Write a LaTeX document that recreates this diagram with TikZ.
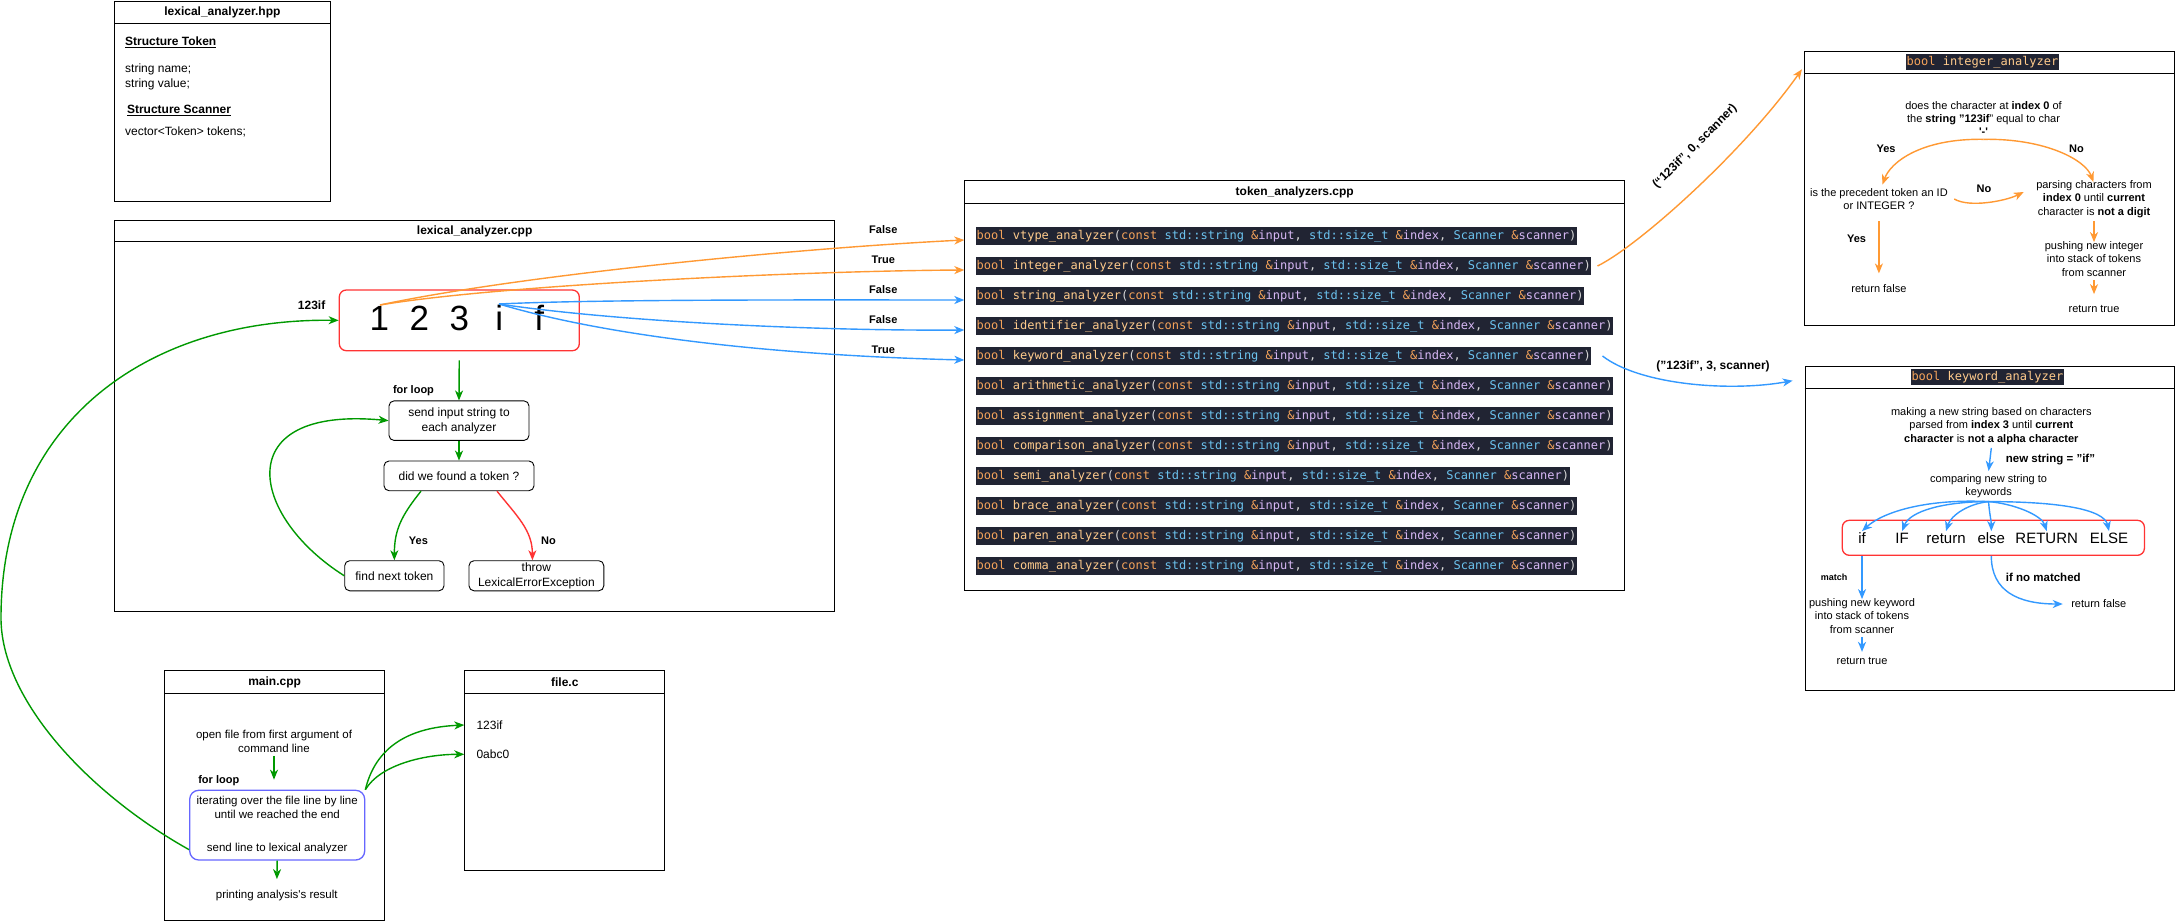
\documentclass[tikz,border=0pt]{standalone}
\usepackage{fontspec}
\setmainfont{Liberation Sans}
\setmonofont{DejaVu Sans Mono}
\usetikzlibrary{arrows.meta,calc}
\definecolor{gC}{HTML}{009900}
\definecolor{oC}{HTML}{FF9933}
\definecolor{bC}{HTML}{3399FF}
\definecolor{rC}{HTML}{FF3333}
\definecolor{vC}{HTML}{6666FF}
\definecolor{cbg}{HTML}{212433}
\definecolor{cbool}{HTML}{F5A35A}
\definecolor{cfn}{HTML}{FFCB8C}
\definecolor{cpl}{HTML}{D8D8D8}
\definecolor{cty}{HTML}{6CC3EF}
\definecolor{cvar}{HTML}{D7B8F5}
\newcommand{\sz}[2]{\fontsize{#1}{#2}\selectfont}
\newcommand{\fnsig}[1]{\textcolor{cbool}{bool} \textcolor{cfn}{#1}\textcolor{cpl}{(}\textcolor{cbool}{const} \textcolor{cty}{std::string} \textcolor{cbool}{\&}\textcolor{cvar}{input}\textcolor{cpl}{,} \textcolor{cty}{std::size\_t} \textcolor{cbool}{\&}\textcolor{cvar}{index}\textcolor{cpl}{,} \textcolor{cty}{Scanner} \textcolor{cbool}{\&}\textcolor{cvar}{scanner}\textcolor{cpl}{)}}
\begin{document}
\begin{tikzpicture}[x=1pt,y=-1pt,
  cont/.style={draw=black, line width=0.9pt, inner sep=0pt, anchor=north west},
  sepl/.style={draw=black, line width=0.9pt},
  ttl/.style={font=\bfseries\sz{12}{14}, inner sep=0pt},
  tx/.style={font=\sz{12}{15}, align=center},
  txm/.style={font=\sz{11.5}{14}, align=center},
  txs/.style={font=\sz{11}{13.3}, align=center},
  lt/.style={anchor=west, inner xsep=0pt},
  bl/.style={font=\bfseries\sz{11}{13}, inner sep=1pt},
  blt/.style={font=\bfseries\sz{12}{14}, inner sep=1pt},
  rbox/.style={draw=black, line width=0.9pt, rounded corners=5pt, align=center, font=\sz{12}{15}, inner sep=0pt},
  codeline/.style={fill=cbg, anchor=west, inner xsep=0.5pt, inner ysep=0pt, minimum height=17.5pt, text height=9.5pt, text depth=3pt, font=\ttfamily\sz{12}{14}},
  codet/.style={fill=cbg, inner xsep=0.5pt, inner ysep=0pt, minimum height=16.5pt, text height=9.5pt, text depth=3pt, font=\ttfamily\sz{12}{14}},
  kwn/.style={font=\sz{15}{17}, inner sep=1pt, text height=11pt, text depth=3pt},
  arr/.style={line width=1.4pt, -{Stealth[length=10pt,width=8pt,inset=3pt]}},
  ga/.style={arr, draw=gC},
  oa/.style={arr, draw=oC},
  ba/.style={arr, draw=bC},
  ra/.style={arr, draw=rC}
]
\useasboundingbox (0,0) rectangle (2176,921);
\fill[white] (0,0) rectangle (2176,921);

% ---------------- lexical_analyzer.hpp
\node[cont, minimum width=215.1pt, minimum height=199.6pt] (hpp) at (114.4,1) {};
\draw[sepl] ($(hpp.north west)+(0,22.7)$) -- ($(hpp.north east)+(0,22.7)$);
\node[ttl] (hppT) at ($(hpp.north)+(0,11.8)$) {lexical\_analyzer.hpp};
\node[lt, font=\bfseries\sz{12}{14}] (st) at (125,42.7) {\underline{Structure Token}};
\node[lt, font=\sz{12}{15}, align=left] (stf) at (125,76.4) {string name;\\string value;};
\node[lt, font=\bfseries\sz{12}{14}] (ss) at (126.8,110.8) {\underline{Structure Scanner}};
\node[lt, font=\sz{12}{15}] (sv) at (125,131.8) {vector<Token> tokens;};

% ---------------- lexical_analyzer.cpp
\node[cont, minimum width=719.6pt, minimum height=390.2pt] (lex) at (114.4,220.4) {};
\draw[sepl] ($(lex.north west)+(0,21)$) -- ($(lex.north east)+(0,21)$);
\node[ttl] (lexT) at ($(lex.north)+(0,10.8)$) {lexical\_analyzer.cpp};

\node[draw=rC, line width=1.3pt, rounded corners=7pt, minimum width=240pt, minimum height=60.7pt, inner sep=0pt, text depth=6pt, font=\sz{35}{40}] (rb) at (459.3,320.35)
  {\makebox[40pt]{1}\makebox[40pt]{2}\makebox[40pt]{3}\makebox[40pt]{i}\makebox[40pt]{f}};
\coordinate (d1) at (380,305);
\coordinate (di) at (499,304);
\node[blt] (lin) at (311.6,305.5) {123if};

\node[rbox, minimum width=140pt, minimum height=39.5pt] (send) at (459,420.65) {send input string to\\each analyzer};
\node[rbox, minimum width=150pt, minimum height=29.7pt] (found) at (459,475.85) {did we found a token ?};
\node[rbox, minimum width=99.3pt, minimum height=30.1pt] (next) at (394.35,575.75) {find next token};
\node[rbox, minimum width=134.8pt, minimum height=30.1pt] (throw) at (536.4,575.75) {throw\\LexicalErrorException};
\node[bl] (forl) at (413.5,390.6) {for loop};
\node[bl] (yes1) at (418.4,540.5) {Yes};
\node[bl] (no1) at (548.5,540.5) {No};

\draw[ga, shorten <=9pt] (rb.south) -- (send.north);
\draw[ga] (send.south) -- (found.north);
\draw[ga] ([xshift=-38pt]found.south) .. controls +(-20,25) and +(0,-30) .. (next.north);
\draw[ra] ([xshift=38pt]found.south) .. controls +(20,25) and +(0,-30) .. ([xshift=-4pt]throw.north);
\draw[ga] (next.west) .. controls +(-95,-60) and +(-160,-15) .. (send.west);

% ---------------- token_analyzers.cpp
\node[cont, minimum width=660pt, minimum height=410pt] (tok) at (964.3,180.3) {};
\draw[sepl] ($(tok.north west)+(0,23)$) -- ($(tok.north east)+(0,23)$);
\node[ttl] (tokT) at ($(tok.north)+(0,12.5)$) {token\_analyzers.cpp};
\foreach \n [count=\i] in {vtype,integer,string,identifier,keyword,arithmetic,assignment,comparison,semi,brace,paren,comma}
  \node[codeline] (l\i) at (976,206+30*\i) {\fnsig{\n\_analyzer}};

% labels on lex -> tok arrows
\node[bl] (lf1) at (883.3,230) {False};
\node[bl] (lt2) at (883.3,260) {True};
\node[bl] (lf3) at (883.3,290) {False};
\node[bl] (lf4) at (883.3,320) {False};
\node[bl] (lt5) at (883.3,350) {True};

\draw[oa] (d1) .. controls (520,275) and (800,248) .. ($(l1.west -| tok.west)+(0,4)$);
\draw[oa] (d1) .. controls (500,285) and (800,271) .. ($(l2.west -| tok.west)+(0,4)$);
\draw[ba] (di) .. controls (600,299) and (850,300) .. ($(l3.west -| tok.west)+(0,4)$);
\draw[ba] (di) .. controls (620,322) and (820,331) .. ($(l4.west -| tok.west)+(0,4)$);
\draw[ba] (di) .. controls (620,340) and (800,356) .. ($(l5.west -| tok.west)+(0,4)$);

% ---------------- integer_analyzer
\node[cont, minimum width=369.9pt, minimum height=274.6pt] (intb) at (1804.4,50.7) {};
\draw[sepl] ($(intb.north west)+(0,22.6)$) -- ($(intb.north east)+(0,22.6)$);
\node[codet] (intT) at ($(intb.north)+(-7.3,11.3)$) {\textcolor{cbool}{bool} \textcolor{cfn}{integer\_analyzer}};
\node[txs] (q) at (1983.5,118.5) {does the character at \textbf{index 0} of\\the \textbf{string "123if}" equal to char\\\textbf{\textquotesingle-\textquotesingle}};
\node[txs, font=\sz{11}{13.7}] (prec) at (1878.9,199) {is the precedent token an ID\\or INTEGER ?};
\node[txs] (pars) at (2094,199) {parsing characters from\\\textbf{index 0} until \textbf{current}\\character is \textbf{not a digit}};
\node[txs] (push) at (2094,259) {pushing new integer\\into stack of tokens\\from scanner};
\node[txs] (rett) at (2094,309.3) {return true};
\node[txs] (retf) at (1878.9,289) {return false};
\node[bl] (iy1) at (1886,149) {Yes};
\node[bl] (in1) at (2076.4,149) {No};
\node[bl] (in2) at (1984,189) {No};
\node[bl] (iy2) at (1856.5,239) {Yes};

\draw[oa] (q.south) .. controls +(-63,-1) and +(8,-22) .. ([xshift=3.5pt]prec.north);
\draw[oa] (q.south) .. controls +(62,-1) and +(-8,-22) .. ($(pars.north)+(-0.6,5)$);
\draw[oa] ($(prec.east)+(3,0)$) .. controls +(15,9) and +(-18,9) .. ($(pars.west)+(-9,-7)$);
\draw[oa] (pars.south) -- ($(push.north)+(0,4)$);
\draw[oa, shorten >=8pt] (push.south) -- (rett.north);
\draw[oa, shorten <=8pt, shorten >=8pt] (prec.south) -- (retf.north);

\draw[oa] ([xshift=6pt]l2.east) .. controls (1640,245) and (1745,150) .. ($(intb.north west)+(-2.5,18.6)$);
\node[blt, rotate=45] (ilab) at (1695,146.7) {(“123if”, 0, scanner)};

% ---------------- keyword_analyzer
\node[cont, minimum width=369.4pt, minimum height=324.3pt] (kwb) at (1804.6,365.7) {};
\draw[sepl] ($(kwb.north west)+(0,22.6)$) -- ($(kwb.north east)+(0,22.6)$);
\node[codet] (kwT) at ($(kwb.north)+(-2.4,11.3)$) {\textcolor{cbool}{bool} \textcolor{cfn}{keyword\_analyzer}};
\node[txs] (mk) at (1991.3,426) {making a new string based on characters\\parsed from \textbf{index 3} until \textbf{current}\\\textbf{character} is \textbf{not a alpha character}};
\node[txs] (cmp) at (1988.6,486.3) {comparing new string to\\keywords};
\node[lt, font=\bfseries\sz{11.5}{13}] (nstr) at (2005.7,460) {new string = "if"};
\node[draw=rC, line width=1.3pt, rounded corners=7pt, minimum width=302.1pt, minimum height=35pt, inner sep=0pt] (kred) at (1993.35,537.8) {};
\node[kwn] (kif) at (1862,539.3) {if};
\node[kwn] (kIF) at (1902,539.3) {IF};
\node[kwn] (kret) at (1946,539.3) {return};
\node[kwn] (kelse) at (1991.3,539.3) {else};
\node[kwn] (kRET) at (2046.7,539.3) {RETURN};
\node[kwn] (kELSE) at (2109,539.3) {ELSE};
\node[font=\bfseries\sz{9}{11}, inner sep=1pt] (match) at (1834,577.7) {match};
\node[lt, font=\bfseries\sz{11.5}{13}] (ifno) at (2005.7,577) {if no matched};
\node[txs] (pushk) at (1862,616) {pushing new keyword\\into stack of tokens\\from scanner};
\node[txs] (retkt) at (1862,661) {return true};
\node[txs] (retkf) at (2098.8,604) {return false};

\draw[ba] (mk.south) -- (cmp.north);
\draw[ba] (cmp.south) .. controls +(-60,-3) and +(22,-20) .. (kif.north);
\draw[ba] (cmp.south) .. controls +(-45,0) and +(8,-20) .. (kIF.north);
\draw[ba] (cmp.south) .. controls +(-20,2) and +(5,-16) .. (kret.north);
\draw[ba] (cmp.south) .. controls +(0.5,10) and +(0,-10) .. (kelse.north);
\draw[ba] (cmp.south) .. controls +(25,2) and +(-5,-16) .. (kRET.north);
\draw[ba] (cmp.south) .. controls +(70,0) and +(-5,-22) .. (kELSE.north);
\draw[ba] (kif |- kred.south) -- ($(pushk.north)+(0,4)$);
\draw[ba, shorten >=2pt] (pushk.south) -- (retkt.north);
\draw[ba] (kelse |- kred.south) .. controls +(0,35) and +(-45,0) .. ($(retkf.west)+(-5,0)$);

\draw[ba] ([xshift=11pt]l5.east) .. controls (1640,385) and (1730,392) .. ($(kwb.north west)+(-12,15)$);
\node[blt] (klab) at (1713,366) {("123if", 3, scanner)};

% ---------------- main.cpp
\node[cont, minimum width=219.7pt, minimum height=249.7pt] (mainb) at (164.3,670.3) {};
\draw[sepl] ($(mainb.north west)+(0,23)$) -- ($(mainb.north east)+(0,23)$);
\node[ttl] (mainT) at ($(mainb.north)+(0,12.5)$) {main.cpp};
\node[txm] (open) at (274,741) {open file from first argument of\\command line};
\node[bl] (forl2) at (218.8,780.3) {for loop};
\node[draw=vC, line width=1.3pt, rounded corners=9pt, minimum width=175pt, minimum height=69.7pt, align=center, font=\sz{11.5}{14}, inner sep=2pt] (iter) at (277.2,825.15) {iterating over the file line by line\\until we reached the end\\[18.7pt]send line to lexical analyzer};
\node[txm] (print) at (276.8,896) {printing analysis\textquotesingle s result};
\draw[ga, shorten >=10pt] (open.south) -- (iter.north -| open.south);
\draw[ga, shorten >=8pt] (iter.south) -- (print.north);

% ---------------- file.c
\node[cont, minimum width=200pt, minimum height=199.7pt] (fileb) at (464.3,670.3) {};
\draw[sepl] ($(fileb.north west)+(0,23)$) -- ($(fileb.north east)+(0,23)$);
\node[ttl] (fileT) at ($(fileb.north)+(0,12.4)$) {file.c};
\node[lt, font=\sz{12}{14}] (fl1) at (476.3,725) {123if};
\node[lt, font=\sz{12}{14}] (fl2) at (476.3,754.3) {0abc0};

\draw[ga] (iter.north east) .. controls +(12,-50) and +(-45,2) .. (fl1.west -| fileb.west);
\draw[ga] (iter.north east) .. controls +(15,-25) and +(-40,0) .. (fl2.west -| fileb.west);

% big loop back to lexical analyzer
\draw[ga] ([yshift=-24.5pt]iter.west) .. controls +(-100,-56) and (1,700) .. (1,618) .. controls (1,420) and (150,318) .. (rb.west);
\end{tikzpicture}
\end{document}
